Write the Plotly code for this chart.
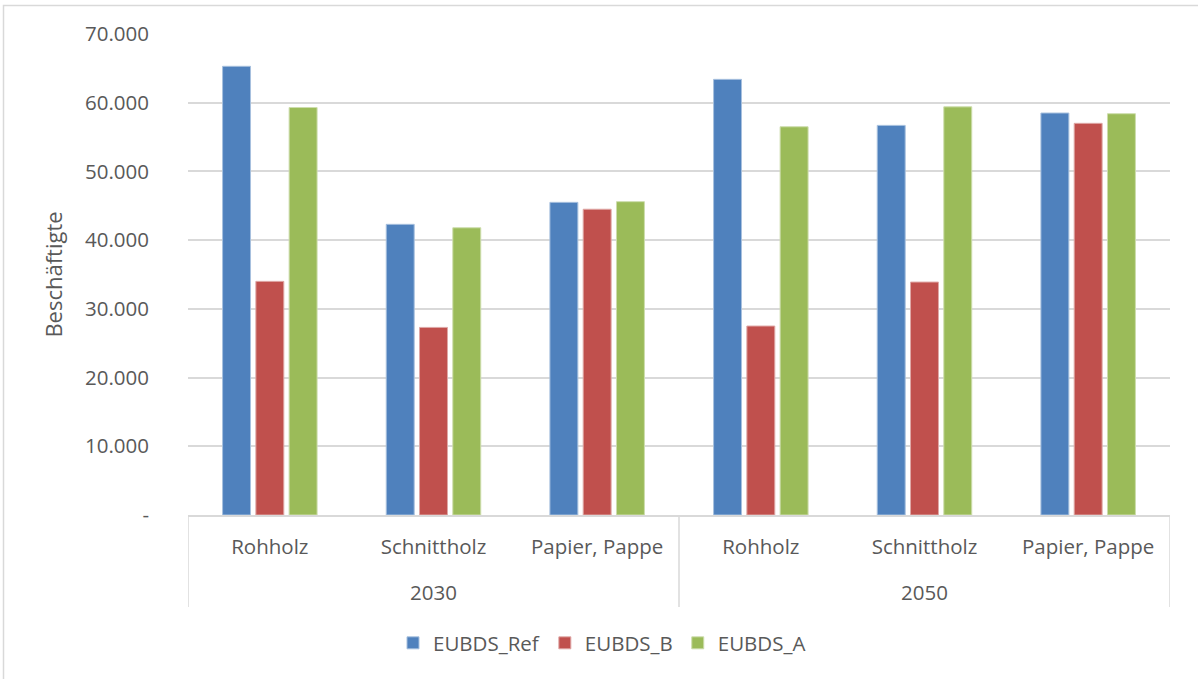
import plotly.graph_objects as go

years = ["2030", "2050"]
products = ["Rohholz", "Schnittholz", "Papier, Pappe",
            "Rohholz", "Schnittholz", "Papier, Pappe"]

eubds_ref = [65300, 42300, 45500, 63400, 56700, 58500]
eubds_b = [34000, 27300, 44500, 27500, 33900, 57000]
eubds_a = [59300, 41800, 45600, 56500, 59400, 58400]

y_ticks = [0, 10000, 20000, 30000, 40000, 50000, 60000, 70000]
y_ticktext = ["-", "10.000", "20.000", "30.000", "40.000", "50.000", "60.000", "70.000"]

series = [
    ("EUBDS_Ref", eubds_ref, "#4F81BD", "#A7C0DE"),
    ("EUBDS_B", eubds_b, "#C0504D", "#DFA8A6"),
    ("EUBDS_A", eubds_a, "#9BBB59", "#CDDDAC"),
]

FONT = "Open Sans"
TXT = "#595959"
GRID = "#D9D9D9"

# category slots along the x axis; products per year form one block
xpos = list(range(len(products)))
per_year = len(products) // len(years)

fig = go.Figure()
for name, vals, col, edge in series:
    fig.add_trace(go.Bar(
        x=xpos, y=vals, name=name,
        marker=dict(color=col, line=dict(color=edge, width=1)),
    ))

W, H = 1198, 679
ml, mr, mt, mb = 188, 28, 34, 164
pw, ph = W - ml - mr, H - mt - mb

def px_x(v):
    return (v - ml) / pw

def px_y(v):
    return (H - mb - v) / ph

shapes = [
    # outer chart frame
    dict(type="rect", xref="paper", yref="paper",
         x0=px_x(3.5), x1=px_x(1205), y0=px_y(5.5), y1=px_y(690),
         line=dict(color=GRID, width=1.5), fillcolor="rgba(0,0,0,0)",
         layer="below"),
]
# vertical dividers of the two-level category axis
for k in range(len(years) + 1):
    xd = k * per_year - 0.5
    shapes.append(dict(type="line", xref="x", yref="paper",
                       x0=xd, x1=xd, y0=0, y1=px_y(607),
                       line=dict(color=GRID, width=1.5)))

annotations = []
for i, yr in enumerate(years):
    annotations.append(dict(
        x=i * per_year + (per_year - 1) / 2, xref="x",
        y=px_y(592), yref="paper", yanchor="middle",
        text=yr, showarrow=False,
        font=dict(family=FONT, size=20.5, color=TXT),
    ))

fig.update_layout(
    width=W, height=H,
    margin=dict(l=ml, r=mr, t=mt, b=mb),
    paper_bgcolor="white", plot_bgcolor="white",
    barmode="group", bargap=0.39, bargroupgap=0.16,
    font=dict(family=FONT, size=20, color=TXT),
    legend=dict(
        orientation="h", x=px_x(602), xanchor="center",
        y=px_y(643), yanchor="middle",
        font=dict(family=FONT, size=20.5, color=TXT),
        itemwidth=30, traceorder="normal",
    ),
    shapes=shapes,
    annotations=annotations,
)

fig.update_xaxes(
    range=[-0.5, len(products) - 0.5],
    tickvals=xpos, ticktext=products,
    showline=True, linecolor=GRID, linewidth=1.5,
    tickfont=dict(family=FONT, size=20.5, color=TXT),
    showgrid=False, ticks="", ticklabelstandoff=13,
    zeroline=False,
)
fig.update_yaxes(
    range=[0, 70000], tickvals=y_ticks, ticktext=y_ticktext,
    showgrid=True, gridcolor=GRID, gridwidth=1.5,
    zeroline=False, showline=False, ticks="", ticklabelstandoff=38,
    tickfont=dict(family=FONT, size=20.5, color=TXT),
    title=dict(text="Beschäftigte", font=dict(family=FONT, size=22, color=TXT),
               standoff=16),
)

fig.write_html("out.html")
